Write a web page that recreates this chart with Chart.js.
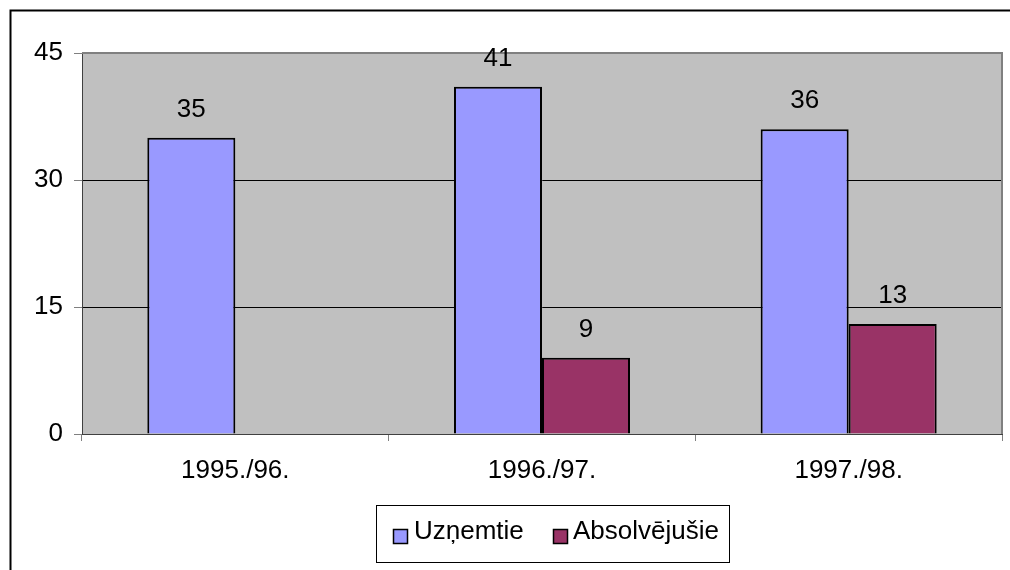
<!DOCTYPE html>
<html>
<head>
<meta charset="utf-8">
<script src="https://cdn.jsdelivr.net/npm/chart.js@4/dist/chart.umd.min.js"></script>
<style>
html,body{margin:0;padding:0;background:#fff;}
canvas{display:block;}
</style>
</head>
<body>
<canvas id="c" width="1010" height="570"></canvas>
<script>
const categories = ["1995./96.", "1996./97.", "1997./98."];
const uznemtie = [35, 41, 36];
const absolvejusie = [null, 9, 13];
const yTicks = [0, 15, 30, 45];
const seriesNames = ["Uzņemtie", "Absolvējušie"];

const FONT = "'Liberation Sans', Arial, sans-serif";
const FS = 26;

const decor = {
  id: 'decor',
  beforeDraw(chart) {
    const {ctx, chartArea: a} = chart;
    ctx.save();
    ctx.fillStyle = '#C0C0C0';
    ctx.fillRect(a.left, a.top, a.right - a.left, a.bottom - a.top);
    ctx.restore();
  },
  afterDatasetsDraw(chart) {
    const {ctx, chartArea: a} = chart;
    ctx.save();
    ctx.strokeStyle = '#808080';
    ctx.lineWidth = 2;
    ctx.beginPath();
    ctx.moveTo(a.left, a.top);
    ctx.lineTo(a.right, a.top);
    ctx.lineTo(a.right, a.bottom);
    ctx.stroke();
    ctx.fillStyle = '#000';
    ctx.font = FS + 'px ' + FONT;
    ctx.textAlign = 'center';
    ctx.textBaseline = 'alphabetic';
    chart.data.datasets.forEach((ds, i) => {
      const meta = chart.getDatasetMeta(i);
      meta.data.forEach((bar, j) => {
        const v = ds.data[j];
        if (v === null || v === undefined) return;
        ctx.fillText(String(v), bar.x, bar.y - 21);
      });
    });
    ctx.strokeStyle = '#000';
    ctx.lineWidth = 2;
    ctx.beginPath();
    ctx.moveTo(10.5, 570);
    ctx.lineTo(10.5, 10.5);
    ctx.lineTo(1010, 10.5);
    ctx.stroke();
    const lx = 376, ly = 505, lw = 353, lh = 57;
    ctx.strokeStyle = '#000';
    ctx.lineWidth = 1;
    ctx.strokeRect(lx + 0.5, ly + 0.5, lw, lh);
    const items = [{x: 393, tx: 414}, {x: 553, tx: 573}];
    ctx.textAlign = 'left';
    chart.data.datasets.forEach((ds, i) => {
      const it = items[i];
      ctx.fillStyle = ds.backgroundColor;
      ctx.fillRect(it.x, 529, 14, 14);
      ctx.strokeStyle = '#000';
      ctx.lineWidth = 1.5;
      ctx.strokeRect(it.x + 0.5, 529.5, 14, 14);
      ctx.fillStyle = '#000';
      ctx.fillText(ds.label, it.tx, 539);
    });
    ctx.restore();
  }
};

new Chart(document.getElementById('c'), {
  type: 'bar',
  data: {
    labels: categories,
    datasets: [
      {label: seriesNames[0], data: uznemtie, backgroundColor: '#9999FF', borderColor: '#000', borderWidth: 2},
      {label: seriesNames[1], data: absolvejusie, backgroundColor: '#993366', borderColor: '#000', borderWidth: 2}
    ]
  },
  options: {
    responsive: false,
    animation: false,
    layout: {padding: {left: 0, right: 8, top: 53, bottom: 76}},
    datasets: {bar: {barPercentage: 1, categoryPercentage: 0.574}},
    plugins: {legend: {display: false}, tooltip: {enabled: false}},
    scales: {
      x: {
        afterFit(s) { s.height = 60; },
        grid: {offset: true, drawOnChartArea: false, color: '#808080', tickLength: 7, lineWidth: 1},
        border: {color: '#404040', width: 1},
        ticks: {color: '#000', font: {family: FONT, size: FS}, padding: 14}
      },
      y: {
        min: 0, max: 45,
        afterFit(s) { s.width = 82; },
        afterBuildTicks(s) { s.ticks = yTicks.map(v => ({value: v})); },
        grid: {
          color: (c) => (c.tick && c.tick.value === 45) ? '#808080' : '#000',
          tickColor: '#808080',
          tickLength: 8,
          lineWidth: 1
        },
        border: {color: '#404040', width: 1},
        ticks: {color: '#000', font: {family: FONT, size: FS}, padding: 11}
      }
    }
  },
  plugins: [decor]
});
</script>
</body>
</html>
